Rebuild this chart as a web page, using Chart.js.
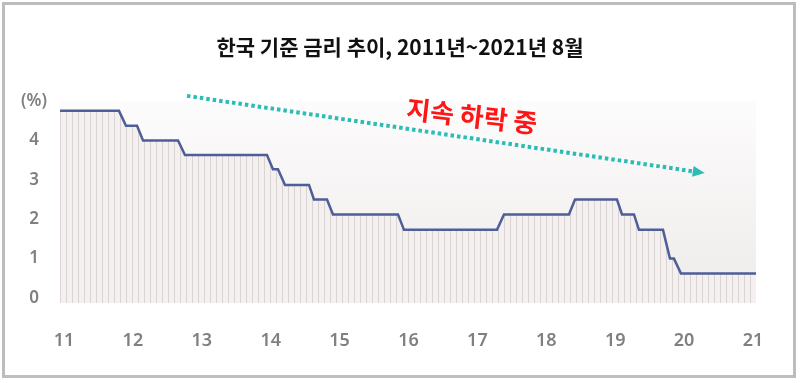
<!DOCTYPE html>
<html><head><meta charset="utf-8">
<script src="https://cdn.jsdelivr.net/npm/chart.js@4/dist/chart.umd.min.js"></script>
<style>html,body{margin:0;padding:0;background:#fff;}#wrap{width:800px;height:383px;}</style>
</head><body><div id="wrap"><canvas id="c" width="800" height="383"></canvas></div>
<script>
// ---- data ----
const titleText = '한국 기준 금리 추이, 2011년~2021년 8월';
const noteText = '지속 하락 중';
const xTickValues = [11,12,13,14,15,16,17,18,19,20,21];
const xTickLabels = ['11','12','13','14','15','16','17','18','19','20','21'];
const yTickValues = [0,1,2,3,4,5];
const yTickLabels = ['0','1','2','3','4','(%)'];
// breakpoints of the rate line (x in year units as on the axis, y in %)
const periodX = [10.942,11.798,11.900,12.060,12.147,12.655,12.756,13.946,14.033,14.106,14.208,14.556,14.628,14.817,14.904,15.848,15.935,17.285,17.386,18.329,18.417,19.026,19.099,19.273,19.345,19.694,19.795,19.853,19.955,21.044];
const rateY   = [4.75,4.75,4.37,4.37,4.00,4.00,3.63,3.63,3.27,3.27,2.87,2.87,2.50,2.50,2.12,2.12,1.73,1.73,2.12,2.12,2.50,2.50,2.12,2.12,1.73,1.73,1.00,1.00,0.62,0.62];

// ---- styling helpers ----
function stripePattern(){
  const c = document.createElement('canvas'); c.width = 6; c.height = 4;
  const g = c.getContext('2d');
  g.fillStyle = '#f3f0ef'; g.fillRect(0,0,6,4);
  g.fillStyle = '#d9d3d1'; g.fillRect(0,0,1,4);
  return g.createPattern(c,'repeat');
}
const arrowCfg = {from:[12.785,5.13], to:[20.30,3.17]};
const noteCfg = {at:[16.92,4.62], angle:6.5};

const decor = {
  id:'decor',
  beforeDraw(chart){
    const {ctx, chartArea:a} = chart;
    ctx.save();
    ctx.fillStyle = '#fff'; ctx.fillRect(0,0,chart.width,chart.height);
    ctx.strokeStyle = '#bdbdbd'; ctx.lineWidth = 3; ctx.strokeRect(3.5,3.5,791,373);
    const g = ctx.createLinearGradient(0, a.top, 0, a.bottom);
    g.addColorStop(0,'#fdfcfc'); g.addColorStop(1,'#eeebea');
    ctx.fillStyle = g; ctx.fillRect(a.left, a.top, a.right-a.left, a.bottom-a.top);
    ctx.restore();
  },
  afterDraw(chart){
    const {ctx, scales:{x,y}} = chart;
    ctx.save();
    // title
    ctx.fillStyle = '#111';
    ctx.font = 'bold 21px "Noto Sans CJK KR"';
    ctx.textAlign = 'center'; ctx.textBaseline = 'middle';
    ctx.fillText(titleText, 400, 47);
    // dotted arrow
    const x1 = x.getPixelForValue(arrowCfg.from[0]), y1 = y.getPixelForValue(arrowCfg.from[1]);
    const x2 = x.getPixelForValue(arrowCfg.to[0]), y2 = y.getPixelForValue(arrowCfg.to[1]);
    const ang = Math.atan2(y2-y1, x2-x1), head = 12, hw = 5.5;
    const ex = x2 - Math.cos(ang)*head, ey = y2 - Math.sin(ang)*head;
    ctx.strokeStyle = '#2bbdb5'; ctx.fillStyle = '#2bbdb5';
    ctx.lineWidth = 4; ctx.setLineDash([3.5,3]); ctx.lineCap = 'butt';
    ctx.beginPath(); ctx.moveTo(x1,y1); ctx.lineTo(ex,ey); ctx.stroke();
    ctx.setLineDash([]);
    ctx.beginPath();
    ctx.moveTo(x2,y2);
    ctx.lineTo(ex + Math.sin(ang)*hw, ey - Math.cos(ang)*hw);
    ctx.lineTo(ex - Math.sin(ang)*hw, ey + Math.cos(ang)*hw);
    ctx.closePath(); ctx.fill();
    // note
    ctx.translate(x.getPixelForValue(noteCfg.at[0]), y.getPixelForValue(noteCfg.at[1]));
    ctx.rotate(noteCfg.angle*Math.PI/180);
    ctx.fillStyle = '#ff1515';
    ctx.font = 'bold 26px "Noto Sans CJK KR"';
    ctx.textAlign = 'center'; ctx.textBaseline = 'middle';
    ctx.fillText(noteText, 0, 0);
    ctx.restore();
  }
};

new Chart(document.getElementById('c'), {
  type:'line',
  data:{datasets:[{
    data: periodX.map((v,i)=>({x:v, y:rateY[i]})),
    borderColor:'#4d5e98', borderWidth:2.5,
    backgroundColor: stripePattern(), fill:'start',
    pointRadius:0, tension:0
  }]},
  options:{
    responsive:false, animation:false, devicePixelRatio:1,
    layout:{padding:{top:101,right:44,left:0,bottom:0}},
    plugins:{legend:{display:false}, tooltip:{enabled:false}, title:{display:false}},
    scales:{
      x:{type:'linear', min:10.942, max:21.044,
        grid:{display:false}, border:{display:false},
        afterBuildTicks:s=>{s.ticks = xTickValues.map(v=>({value:v}));},
        afterFit:s=>{s.height = 80;},
        ticks:{autoSkip:false, maxRotation:0, padding:19, color:'#808080',
          font:{family:'"Noto Sans"', size:18, weight:'600'},
          callback:v=>xTickLabels[xTickValues.indexOf(v)]}
      },
      y:{type:'linear', min:-0.127, max:5,
        grid:{display:false}, border:{display:false},
        afterBuildTicks:s=>{s.ticks = yTickValues.map(v=>({value:v}));},
        afterFit:s=>{s.width = 60;},
        ticks:{crossAlign:'center', padding:5, color:'#808080',
          font:{family:'"Noto Sans"', size:17, weight:'600'},
          callback:v=>yTickLabels[yTickValues.indexOf(v)]}
      }
    }
  },
  plugins:[decor]
});
</script></body></html>
